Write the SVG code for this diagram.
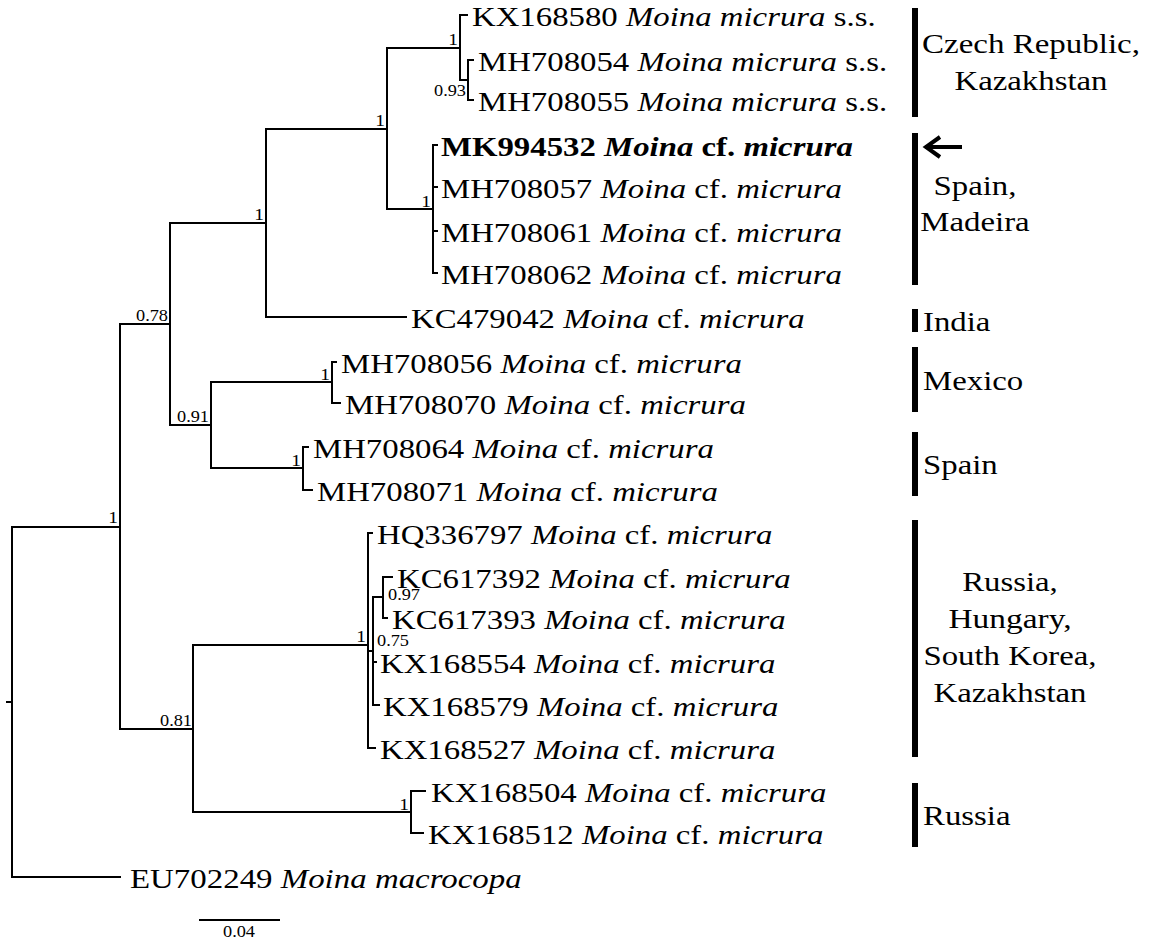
<svg xmlns="http://www.w3.org/2000/svg" width="1149" height="940" viewBox="0 0 1149 940" font-family="'Liberation Serif','Times New Roman',Tinos,serif">
<style>
text{font-family:"Liberation Serif","Times New Roman",Tinos,serif;fill:#000}
.lb{font-size:28px}
.sp{font-size:16px}
.i{font-style:italic}
.b{font-weight:bold}
.br{stroke:#000;stroke-width:2;fill:none;stroke-linecap:square}
.bar{fill:#000}
</style>
<rect width="1149" height="940" fill="#fff"/>
<g id="connectors" class="br">
<path d="M7,702 H12"/>
<path d="M120,527 H12 V877 H120"/>
<path d="M170,324 H120 V729 H193"/>
<path d="M266,223 H170 V425 H211"/>
<path d="M387,129 H266 V317 H406"/>
<path d="M460,48 H387 V209 H433"/>
<path d="M467,15 H460 V80 H468"/>
<path d="M473,60 H468 V100 H473"/>
<path d="M437,145 H433 V273 H437 M433,187 H437 M433,231 H437"/>
<path d="M332,382 H211 V468 H303"/>
<path d="M336,362 H332 V403 H340"/>
<path d="M308,447 H303 V490 H312"/>
<path d="M368,645 H193 V812 H411"/>
<path d="M372,533 H368 V748 H375 M368,651 H373"/>
<path d="M383,597 H373 V705 H379 M373,662 H376"/>
<path d="M392,577 H383 V618 H387"/>
<path d="M425,791 H411 V833 H423"/>
</g>
<g id="support">
<text class="sp" x="458" y="45" text-anchor="end" textLength="9.7" lengthAdjust="spacingAndGlyphs">1</text>
<text class="sp" x="466" y="96" text-anchor="end" textLength="32" lengthAdjust="spacingAndGlyphs">0.93</text>
<text class="sp" x="385" y="126" text-anchor="end" textLength="9.7" lengthAdjust="spacingAndGlyphs">1</text>
<text class="sp" x="431" y="207" text-anchor="end" textLength="9.7" lengthAdjust="spacingAndGlyphs">1</text>
<text class="sp" x="264" y="220" text-anchor="end" textLength="9.7" lengthAdjust="spacingAndGlyphs">1</text>
<text class="sp" x="168" y="321" text-anchor="end" textLength="32" lengthAdjust="spacingAndGlyphs">0.78</text>
<text class="sp" x="209" y="422" text-anchor="end" textLength="32" lengthAdjust="spacingAndGlyphs">0.91</text>
<text class="sp" x="330" y="380" text-anchor="end" textLength="9.7" lengthAdjust="spacingAndGlyphs">1</text>
<text class="sp" x="301" y="466" text-anchor="end" textLength="9.7" lengthAdjust="spacingAndGlyphs">1</text>
<text class="sp" x="118" y="523" text-anchor="end" textLength="9.7" lengthAdjust="spacingAndGlyphs">1</text>
<text class="sp" x="192" y="726" text-anchor="end" textLength="32" lengthAdjust="spacingAndGlyphs">0.81</text>
<text class="sp" x="366" y="642" text-anchor="end" textLength="9.7" lengthAdjust="spacingAndGlyphs">1</text>
<text class="sp" x="388" y="600" textLength="32" lengthAdjust="spacingAndGlyphs">0.97</text>
<text class="sp" x="377" y="646" textLength="32" lengthAdjust="spacingAndGlyphs">0.75</text>
<text class="sp" x="409" y="810" text-anchor="end" textLength="9.7" lengthAdjust="spacingAndGlyphs">1</text>
</g>
<g id="leaf-KX168580"><text class="lb" x="472" y="26" textLength="403.6" lengthAdjust="spacingAndGlyphs">KX168580 <tspan class="i">Moina micrura</tspan> s.s.</text></g>
<g id="leaf-MH708054"><text class="lb" x="478" y="71" textLength="409.1" lengthAdjust="spacingAndGlyphs">MH708054 <tspan class="i">Moina micrura</tspan> s.s.</text></g>
<g id="leaf-MH708055"><text class="lb" x="478" y="111" textLength="409.1" lengthAdjust="spacingAndGlyphs">MH708055 <tspan class="i">Moina micrura</tspan> s.s.</text></g>
<g id="leaf-MK994532"><text class="lb b" x="441" y="156" textLength="411.8" lengthAdjust="spacingAndGlyphs">MK994532 <tspan class="i">Moina</tspan> cf. <tspan class="i">micrura</tspan></text></g>
<g id="leaf-MH708057"><text class="lb" x="441" y="198" textLength="400.9" lengthAdjust="spacingAndGlyphs">MH708057 <tspan class="i">Moina</tspan> cf. <tspan class="i">micrura</tspan></text></g>
<g id="leaf-MH708061"><text class="lb" x="441" y="242" textLength="400.9" lengthAdjust="spacingAndGlyphs">MH708061 <tspan class="i">Moina</tspan> cf. <tspan class="i">micrura</tspan></text></g>
<g id="leaf-MH708062"><text class="lb" x="441" y="284" textLength="400.9" lengthAdjust="spacingAndGlyphs">MH708062 <tspan class="i">Moina</tspan> cf. <tspan class="i">micrura</tspan></text></g>
<g id="leaf-KC479042"><text class="lb" x="411" y="328" textLength="393.6" lengthAdjust="spacingAndGlyphs">KC479042 <tspan class="i">Moina</tspan> cf. <tspan class="i">micrura</tspan></text></g>
<g id="leaf-MH708056"><text class="lb" x="341" y="373" textLength="400.9" lengthAdjust="spacingAndGlyphs">MH708056 <tspan class="i">Moina</tspan> cf. <tspan class="i">micrura</tspan></text></g>
<g id="leaf-MH708070"><text class="lb" x="345" y="414" textLength="400.9" lengthAdjust="spacingAndGlyphs">MH708070 <tspan class="i">Moina</tspan> cf. <tspan class="i">micrura</tspan></text></g>
<g id="leaf-MH708064"><text class="lb" x="313" y="458" textLength="400.9" lengthAdjust="spacingAndGlyphs">MH708064 <tspan class="i">Moina</tspan> cf. <tspan class="i">micrura</tspan></text></g>
<g id="leaf-MH708071"><text class="lb" x="317" y="501" textLength="400.9" lengthAdjust="spacingAndGlyphs">MH708071 <tspan class="i">Moina</tspan> cf. <tspan class="i">micrura</tspan></text></g>
<g id="leaf-HQ336797"><text class="lb" x="377" y="544" textLength="395.4" lengthAdjust="spacingAndGlyphs">HQ336797 <tspan class="i">Moina</tspan> cf. <tspan class="i">micrura</tspan></text></g>
<g id="leaf-KC617392"><text class="lb" x="397" y="588" textLength="393.6" lengthAdjust="spacingAndGlyphs">KC617392 <tspan class="i">Moina</tspan> cf. <tspan class="i">micrura</tspan></text></g>
<g id="leaf-KC617393"><text class="lb" x="392" y="629" textLength="393.6" lengthAdjust="spacingAndGlyphs">KC617393 <tspan class="i">Moina</tspan> cf. <tspan class="i">micrura</tspan></text></g>
<g id="leaf-KX168554"><text class="lb" x="380" y="673" textLength="395.4" lengthAdjust="spacingAndGlyphs">KX168554 <tspan class="i">Moina</tspan> cf. <tspan class="i">micrura</tspan></text></g>
<g id="leaf-KX168579"><text class="lb" x="383" y="716" textLength="395.4" lengthAdjust="spacingAndGlyphs">KX168579 <tspan class="i">Moina</tspan> cf. <tspan class="i">micrura</tspan></text></g>
<g id="leaf-KX168527"><text class="lb" x="380" y="759" textLength="395.4" lengthAdjust="spacingAndGlyphs">KX168527 <tspan class="i">Moina</tspan> cf. <tspan class="i">micrura</tspan></text></g>
<g id="leaf-KX168504"><text class="lb" x="431" y="802" textLength="395.4" lengthAdjust="spacingAndGlyphs">KX168504 <tspan class="i">Moina</tspan> cf. <tspan class="i">micrura</tspan></text></g>
<g id="leaf-KX168512"><text class="lb" x="428" y="844" textLength="395.4" lengthAdjust="spacingAndGlyphs">KX168512 <tspan class="i">Moina</tspan> cf. <tspan class="i">micrura</tspan></text></g>
<g id="leaf-EU702249"><text class="lb" x="130" y="888" textLength="391.7" lengthAdjust="spacingAndGlyphs">EU702249 <tspan class="i">Moina macrocopa</tspan></text></g>
<g id="clade-czech">
<rect class="bar" x="912" y="8" width="6" height="109"/>
<text class="lb" x="1031" y="53" text-anchor="middle" textLength="218" lengthAdjust="spacingAndGlyphs">Czech Republic,</text>
<text class="lb" x="1031" y="90" text-anchor="middle" textLength="153" lengthAdjust="spacingAndGlyphs">Kazakhstan</text>
</g>
<g id="clade-spain-madeira">
<rect class="bar" x="912" y="133" width="6" height="152"/>
<path d="M962,147 H928 M940,137 L926,147 L940,157" stroke="#000" stroke-width="4" fill="none"/>
<text class="lb" x="975" y="195" text-anchor="middle" textLength="82.9" lengthAdjust="spacingAndGlyphs">Spain,</text>
<text class="lb" x="975" y="231" text-anchor="middle" textLength="109.3" lengthAdjust="spacingAndGlyphs">Madeira</text>
</g>
<g id="clade-india">
<rect class="bar" x="912" y="309" width="6" height="23"/>
<text class="lb" x="923" y="331" textLength="67.4" lengthAdjust="spacingAndGlyphs">India</text>
</g>
<g id="clade-mexico">
<rect class="bar" x="912" y="347" width="6" height="65"/>
<text class="lb" x="923" y="390" textLength="100.2" lengthAdjust="spacingAndGlyphs">Mexico</text>
</g>
<g id="clade-spain">
<rect class="bar" x="912" y="432" width="6" height="64"/>
<text class="lb" x="923" y="474" textLength="74.7" lengthAdjust="spacingAndGlyphs">Spain</text>
</g>
<g id="clade-russia-hungary">
<rect class="bar" x="912" y="520" width="6" height="237"/>
<text class="lb" x="1010" y="591" text-anchor="middle" textLength="95.7" lengthAdjust="spacingAndGlyphs">Russia,</text>
<text class="lb" x="1010" y="628" text-anchor="middle" textLength="123" lengthAdjust="spacingAndGlyphs">Hungary,</text>
<text class="lb" x="1010" y="665" text-anchor="middle" textLength="173" lengthAdjust="spacingAndGlyphs">South Korea,</text>
<text class="lb" x="1010" y="702" text-anchor="middle" textLength="153" lengthAdjust="spacingAndGlyphs">Kazakhstan</text>
</g>
<g id="clade-russia">
<rect class="bar" x="912" y="783" width="6" height="64"/>
<text class="lb" x="923" y="825" textLength="87.5" lengthAdjust="spacingAndGlyphs">Russia</text>
</g>
<g id="scale-bar">
<path class="br" d="M200,920 H279"/>
<text class="sp" x="239" y="937" text-anchor="middle" textLength="32" lengthAdjust="spacingAndGlyphs">0.04</text>
</g>
</svg>
